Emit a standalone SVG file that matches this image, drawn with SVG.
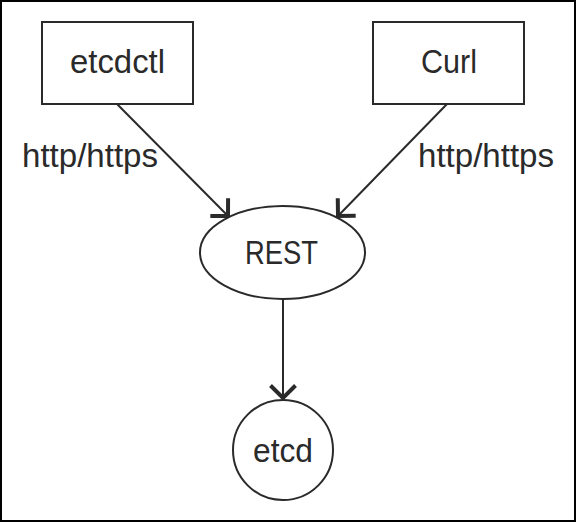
<svg xmlns="http://www.w3.org/2000/svg" width="576" height="522" viewBox="0 0 576 522">
<style>
.shape{fill:#ffffff;stroke:#2a2a2a;stroke-width:2}
.edge{fill:none;stroke:#2a2a2a;stroke-width:2}
text{font-family:"Liberation Sans",Arial,sans-serif;font-size:33px;fill:#2a2a2a}
.c{text-anchor:middle}
</style>
<defs>
<marker id="arr" viewBox="-18 -16 22 32" refX="0" refY="0" markerWidth="22" markerHeight="32" markerUnits="userSpaceOnUse" orient="auto">
<path d="M-12.5,-12.5 L0,0 L-12.5,12.5" fill="none" stroke="#2a2a2a" stroke-width="4" stroke-linejoin="miter"/>
</marker>
</defs>
<rect x="1" y="1" width="574" height="520" fill="#ffffff" stroke="#000000" stroke-width="2"/>
<g id="connectors">
<line class="edge" x1="117" y1="104" x2="228" y2="216" marker-end="url(#arr)"/>
<line class="edge" x1="447" y1="104" x2="338" y2="216" marker-end="url(#arr)"/>
<line class="edge" x1="283" y1="299" x2="283" y2="398" marker-end="url(#arr)"/>
<text x="22" y="167" textLength="136" lengthAdjust="spacingAndGlyphs">http/https</text>
<text x="418" y="167" textLength="136" lengthAdjust="spacingAndGlyphs">http/https</text>
</g>
<g id="etcdctl">
<rect class="shape" x="42" y="22" width="151" height="82"/>
<text class="c" x="117.5" y="73" textLength="95" lengthAdjust="spacingAndGlyphs">etcdctl</text>
</g>
<g id="curl">
<rect class="shape" x="373" y="22" width="151" height="82"/>
<text class="c" x="449" y="73" textLength="56" lengthAdjust="spacingAndGlyphs">Curl</text>
</g>
<g id="rest">
<ellipse class="shape" cx="282.5" cy="252.5" rx="82.5" ry="46.5"/>
<text class="c" x="281.5" y="264" textLength="73" lengthAdjust="spacingAndGlyphs">REST</text>
</g>
<g id="etcd">
<circle class="shape" cx="283" cy="450" r="50"/>
<text class="c" x="283" y="462" textLength="60" lengthAdjust="spacingAndGlyphs">etcd</text>
</g>
</svg>
